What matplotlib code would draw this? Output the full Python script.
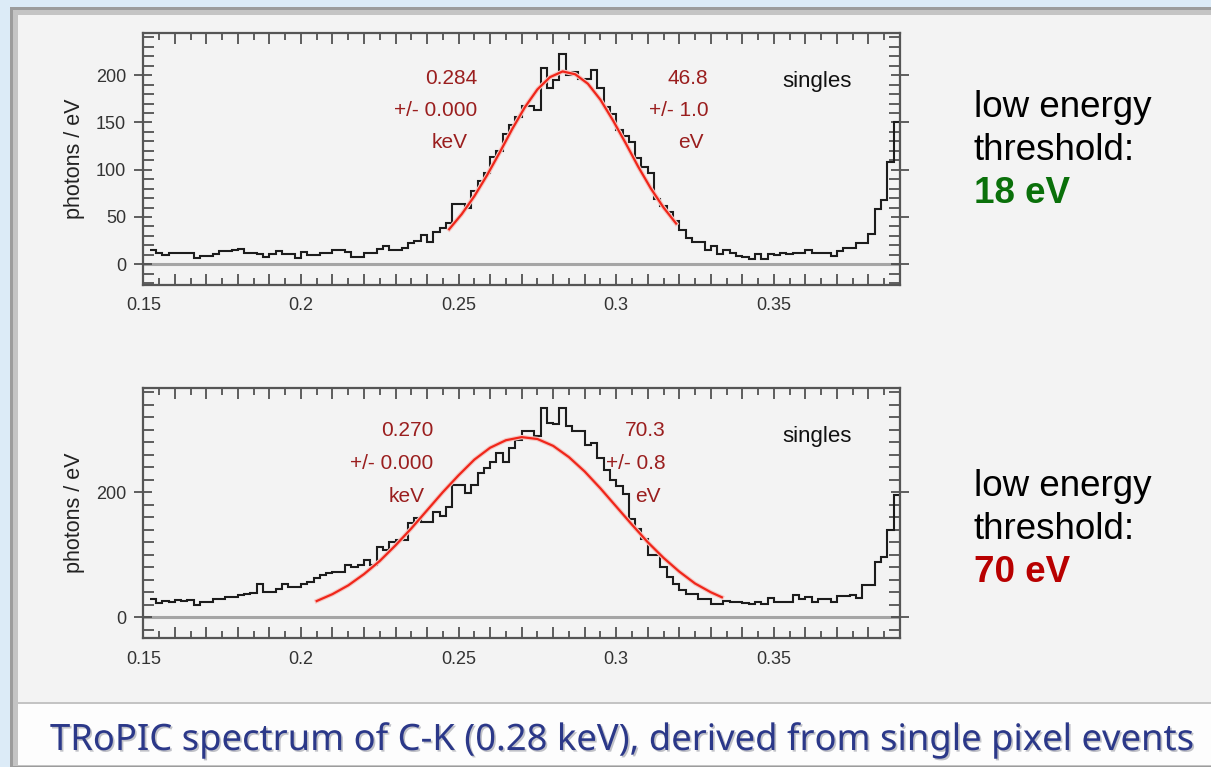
import numpy as np
import matplotlib.pyplot as plt
from matplotlib.patches import Rectangle
from matplotlib.ticker import MultipleLocator, FuncFormatter
import matplotlib.patheffects as pe

# histogram bins: 2 eV wide, from 0.152 to 0.390 keV
bin_start = 0.152
bin_width = 0.002

# photons / eV, low threshold 18 eV (upper panel)
top_counts = [15.5, 12, 9.5, 12, 12, 12, 12, 7, 9, 9,
              10.5, 14, 14, 15.5, 16.5, 12, 12, 11, 8, 11,
              13.5, 11, 11, 6.5, 13, 9.5, 10, 12, 12, 15,
              15, 13, 8, 8, 12, 12, 16.5, 19.5, 15, 15,
              17, 22, 25, 31, 23, 34, 38, 44, 64, 64,
              59, 77, 88, 97, 113, 120, 138, 147, 156, 167,
              167, 163, 208, 186, 195, 222, 200, 203, 196, 196,
              205, 186, 166, 159, 142, 136, 129, 112, 103, 96,
              69, 62, 55, 46, 36, 28, 24, 24, 15.5, 19,
              11, 14.8, 12, 9, 7.7, 5, 10.6, 6, 10.6, 9.6,
              12, 10.6, 12, 12, 14.8, 12, 12, 12, 9, 14,
              17.6, 17.6, 22.5, 22.5, 32, 58, 68, 108, 150]

# photons / eV, low threshold 70 eV (lower panel)
bottom_counts = [29, 23.5, 26, 24, 27, 26, 27, 20, 25, 25,
                 29, 29, 32, 33, 36, 37, 39, 54, 41, 41,
                 46, 54, 48, 49, 54, 57, 62, 68, 70, 73,
                 73, 84, 80, 83, 91, 83, 112, 107, 120, 124,
                 124, 150, 158, 152, 152, 169, 162, 177, 211, 211,
                 198, 211, 230, 238, 248, 262, 248, 270, 284, 297,
                 297, 289, 335, 310, 309, 334, 305, 298, 298, 275,
                 278, 255, 236, 220, 210, 197, 157, 141, 125, 100,
                 100, 80, 65, 53, 44, 37, 37, 29, 29, 21,
                 21, 26, 24, 24, 23, 22, 25, 21, 31, 25,
                 25, 25, 36, 30, 33, 25, 29, 29, 25, 34,
                 34, 36, 31, 52, 52, 89, 97, 140, 196]

# red fit curves
top_fit_x = [0.247, 0.251, 0.255, 0.259, 0.263, 0.267, 0.271, 0.275, 0.279, 0.283,
             0.287, 0.291, 0.295, 0.299, 0.303, 0.307, 0.311, 0.315, 0.319]
top_fit_y = [37, 53, 72, 94, 118, 143, 166, 185, 198, 204,
             201, 191, 174, 152, 128, 103, 80, 60, 43]
bot_fit_x = [0.205, 0.210, 0.215, 0.220, 0.225, 0.230, 0.235, 0.240, 0.245, 0.250,
             0.255, 0.260, 0.265, 0.270, 0.275, 0.280, 0.285, 0.290, 0.295, 0.300,
             0.305, 0.310, 0.315, 0.320, 0.325, 0.330, 0.3335]
bot_fit_y = [26, 37, 51, 69, 90, 115, 142, 171, 200, 227,
             252, 271, 283, 288, 285, 274, 256, 233, 206, 177,
             148, 120, 95, 73, 54, 40, 32]

top_pos_txt = ["0.284", "+/- 0.000", "keV"]
top_fwhm_txt = ["46.8", "+/- 1.0", "eV"]
bot_pos_txt = ["0.270", "+/- 0.000", "keV"]
bot_fwhm_txt = ["70.3", "+/- 0.8", "eV"]
thresholds = ["18 eV", "70 eV"]
threshold_colors = ["#0a700a", "#b80000"]
title = "TRoPIC spectrum of C-K (0.28 keV), derived from single pixel events"

W, H = 1211, 767
fig = plt.figure(figsize=(W / 100, H / 100), dpi=100)
fig.patch.set_facecolor("#dcebf7")


def box(x0, y0, x1, y1, color):
    # rectangle in pixels (origin top-left), kept behind the axes
    fig.patches.append(Rectangle((x0 / W, 1 - y1 / H), (x1 - x0) / W, (y1 - y0) / H,
                                 transform=fig.transFigure, facecolor=color,
                                 edgecolor="none", zorder=-5))


# slide frame
box(10, 7, W, H, "#9c9c9c")
box(13, 10, W, H - 1, "#c4c4c4")
box(18, 15, W, 702, "#f3f3f3")
box(18, 704, W, 765, "#fdfdfd")

edges = bin_start + bin_width * np.arange(len(top_counts) + 1)

red_dark = "#9a1e1e"
font = "Liberation Sans"


def setup_axes(ax, ymin, ymax, ymajor, yminor):
    ax.set_facecolor("none")
    ax.set_xlim(0.15, 0.39)
    ax.set_ylim(ymin, ymax)
    ax.xaxis.set_major_locator(MultipleLocator(0.01))
    ax.xaxis.set_minor_locator(MultipleLocator(0.005))
    ax.xaxis.set_major_formatter(FuncFormatter(
        lambda v, p: f"{v:g}" if abs(round(v / 0.05) * 0.05 - v) < 1e-6 else ""))
    ax.yaxis.set_major_locator(MultipleLocator(ymajor))
    ax.yaxis.set_minor_locator(MultipleLocator(yminor))
    ax.tick_params(axis="x", which="both", direction="in", top=True, bottom=True,
                   color="#444444", width=1.2, labelsize=13, labelcolor="#333333", pad=9)
    ax.tick_params(axis="x", which="major", length=8)
    ax.tick_params(axis="x", which="minor", length=5)
    ax.tick_params(axis="y", which="both", left=True, right=True,
                   color="#444444", width=1.2, labelsize=13, labelcolor="#333333")
    ax.tick_params(axis="y", which="major", direction="inout", length=13, pad=6)
    ax.tick_params(axis="y", which="minor", direction="in", length=8)
    for lab in ax.get_xticklabels() + ax.get_yticklabels():
        lab.set_family(font)
    for s in ax.spines.values():
        s.set_color("#555555")
        s.set_linewidth(1.6)
    ax.axhline(0, color="#a5a5a5", lw=2.2, zorder=1)
    ax.set_ylabel("photons / eV", fontsize=15.5, family=font, color="#222222", labelpad=8)


def panel(ax, counts, fx, fy, pos_txt, fwhm_txt, tx, ty):
    ax.stairs(counts, edges, baseline=None, color="#1c1c1c", lw=1.5, zorder=2)
    ax.plot(fx, fy, color="#f0261a", lw=1.6, zorder=3,
            path_effects=[pe.Stroke(linewidth=3.2, foreground="#f3c8c4"), pe.Normal()])
    # fit results text (columns: position, fwhm)
    ax.text(tx[0], ty[0], pos_txt[0], ha="right", va="center", color=red_dark, fontsize=15, family=font)
    ax.text(tx[0], ty[1], pos_txt[1], ha="right", va="center", color=red_dark, fontsize=15, family=font)
    ax.text(tx[1], ty[2], pos_txt[2], ha="center", va="center", color=red_dark, fontsize=15, family=font)
    ax.text(tx[2], ty[0], fwhm_txt[0], ha="right", va="center", color=red_dark, fontsize=15, family=font)
    ax.text(tx[2], ty[1], fwhm_txt[1], ha="right", va="center", color=red_dark, fontsize=15, family=font)
    ax.text(tx[3], ty[2], fwhm_txt[2], ha="center", va="center", color=red_dark, fontsize=15, family=font)
    ax.text(0.3527, ty[3], "singles", ha="left", va="center", color="#111111", fontsize=16, family=font)


ax1 = fig.add_axes([143.3 / W, 1 - 285 / H, 756.7 / W, 252.3 / H])
setup_axes(ax1, -22, 245, 50, 10)
panel(ax1, top_counts, top_fit_x, top_fit_y, top_pos_txt, top_fwhm_txt,
      [0.2558, 0.2470, 0.3293, 0.3236], [197, 163, 129, 193])

ax2 = fig.add_axes([143.3 / W, 1 - 638.3 / H, 756.7 / W, 250.6 / H])
setup_axes(ax2, -33.6, 367, 200, 20)
panel(ax2, bottom_counts, bot_fit_x, bot_fit_y, bot_pos_txt, bot_fwhm_txt,
      [0.2420, 0.2336, 0.3156, 0.3101], [298, 246, 193, 289])

# threshold notes on the right
for base, thr, col in zip([116.7, 495.7], thresholds, threshold_colors):
    fig.text(974 / W, 1 - base / H, "low energy", fontsize=26.5, family=font, va="baseline")
    fig.text(974 / W, 1 - (base + 43) / H, "threshold:", fontsize=26.5, family=font, va="baseline")
    fig.text(974 / W, 1 - (base + 86.5) / H, thr, fontsize=26.5, family=font, va="baseline",
             fontweight="bold", color=col)

fig.text(50 / W, 1 - 750 / H, title, fontsize=26.2, family="Noto Sans", color="#2b3889",
         va="baseline",
         path_effects=[pe.withSimplePatchShadow(offset=(1.2, -1.2), alpha=0.25)])

fig.savefig("out.png", dpi=100, facecolor=fig.get_facecolor())
